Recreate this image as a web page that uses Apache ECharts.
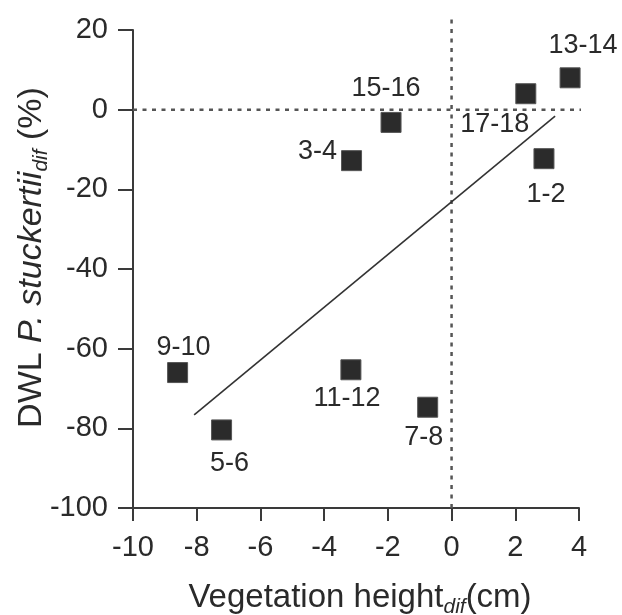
<!DOCTYPE html>
<html>
<head>
<meta charset="utf-8">
<script src="https://cdn.jsdelivr.net/npm/echarts@6/dist/echarts.min.js"></script>
<style>
html,body{margin:0;padding:0;background:#fff;}
#c{width:622px;height:615px;}
</style>
</head>
<body>
<div id="c"></div>
<script>
// ---- data ----
var pointLabels = ['13-14','17-18','15-16','3-4','1-2','9-10','5-6','11-12','7-8'];
var vegHeight   = [3.72, 2.33, -1.9, -3.14, 2.9, -8.6, -7.22, -3.16, -0.75];
var dwl         = [8.0, 4.0, -3.2, -12.8, -12.3, -66.0, -80.4, -65.3, -74.7];
var regX = [-8.08, 3.25];
var regY = [-76.6, -1.6];
var zeroLineX = [-10, 4.24];     // horizontal dotted line at y = 0
var zeroLineY = [-100, 23.8];    // vertical dotted line at x = 0
var xTicks = [-10, -8, -6, -4, -2, 0, 2, 4];
var yTicks = [-100, -80, -60, -40, -20, 0, 20];

// ---- label placement (style only) ----
var labelOffsets = {
  '13-14': [13, -32], '17-18': [-31, 31], '15-16': [-5, -34], '3-4': [-34, -9],
  '1-2': [2, 36], '9-10': [6, -25], '5-6': [8, 34], '11-12': [-4, 29], '7-8': [-4, 30]
};

var FONT = 'Liberation Sans, Arial, sans-serif';
var TXT = '#2a2a2a';

var scatterData = pointLabels.map(function (name, i) {
  return {
    name: name,
    value: [vegHeight[i], dwl[i]],
    label: { show: true, position: 'inside', offset: labelOffsets[name], formatter: name }
  };
});

var chart = echarts.init(document.getElementById('c'), null, {renderer: 'canvas'});
chart.setOption({
  animation: false,
  backgroundColor: '#fff',
  grid: { left: 133, right: 43, top: 30, bottom: 107, containLabel: false, outerBoundsMode: 'none' },
  xAxis: {
    type: 'value', min: xTicks[0], max: xTicks[xTicks.length - 1], interval: 2,
    splitLine: { show: false },
    axisLine: { show: true, onZero: false, lineStyle: { color: '#3a3a3a', width: 2 } },
    axisTick: { show: true, length: 13, lineStyle: { color: '#3a3a3a', width: 2 } },
    axisLabel: { color: TXT, fontSize: 29, fontFamily: FONT, margin: 25 },
    name: '{n|Vegetation height}{s|dif}{n|(cm)}',
    nameLocation: 'middle', nameGap: 70, nameMoveOverlap: false,
    nameTextStyle: {
      padding: [0, 0, 0, 8],
      rich: {
        n: { fontSize: 33, fontFamily: FONT, color: TXT, lineHeight: 38, verticalAlign: 'middle' },
        s: { fontSize: 21, fontFamily: FONT, fontStyle: 'italic', color: TXT, lineHeight: 40, verticalAlign: 'bottom' }
      }
    }
  },
  yAxis: {
    type: 'value', min: yTicks[0], max: yTicks[yTicks.length - 1], interval: 20,
    splitLine: { show: false },
    axisLine: { show: true, onZero: false, lineStyle: { color: '#3a3a3a', width: 2 } },
    axisTick: { show: true, length: 15, lineStyle: { color: '#3a3a3a', width: 2 } },
    axisLabel: { color: TXT, fontSize: 29, fontFamily: FONT, margin: 25 },
    name: '{n|DWL }{i|P. stuckertii}{s|dif}{n| (%)}',
    nameLocation: 'middle', nameGap: 81, nameRotate: 90, nameMoveOverlap: false,
    nameTextStyle: {
      padding: [0, 0, 0, 23],
      rich: {
        n: { fontSize: 34, fontFamily: FONT, color: TXT, lineHeight: 38, verticalAlign: 'middle' },
        i: { fontSize: 34, fontFamily: FONT, fontStyle: 'italic', color: TXT, lineHeight: 38, verticalAlign: 'middle' },
        s: { fontSize: 21, fontFamily: FONT, fontStyle: 'italic', color: TXT, lineHeight: 40, verticalAlign: 'bottom' }
      }
    }
  },
  series: [
    {
      type: 'line', clip: false, symbol: 'none', silent: true,
      data: [[zeroLineX[0], 0], [zeroLineX[1], 0]],
      lineStyle: { color: '#555', width: 2.5, type: [4, 5.5] }
    },
    {
      type: 'line', clip: false, symbol: 'none', silent: true,
      data: [[0, zeroLineY[0]], [0, zeroLineY[1]]],
      lineStyle: { color: '#555', width: 2.5, type: [4, 5.5] }
    },
    {
      type: 'line', clip: false, symbol: 'none', silent: true,
      data: [[regX[0], regY[0]], [regX[1], regY[1]]],
      lineStyle: { color: '#333', width: 1.6 }
    },
    {
      type: 'scatter', symbol: 'rect', symbolSize: 20,
      itemStyle: { color: '#2b2b2b', borderColor: '#555', borderWidth: 1, opacity: 1 },
      label: { color: TXT, fontSize: 27, fontFamily: FONT },
      data: scatterData,
      z: 5
    }
  ]
});
</script>
</body>
</html>
